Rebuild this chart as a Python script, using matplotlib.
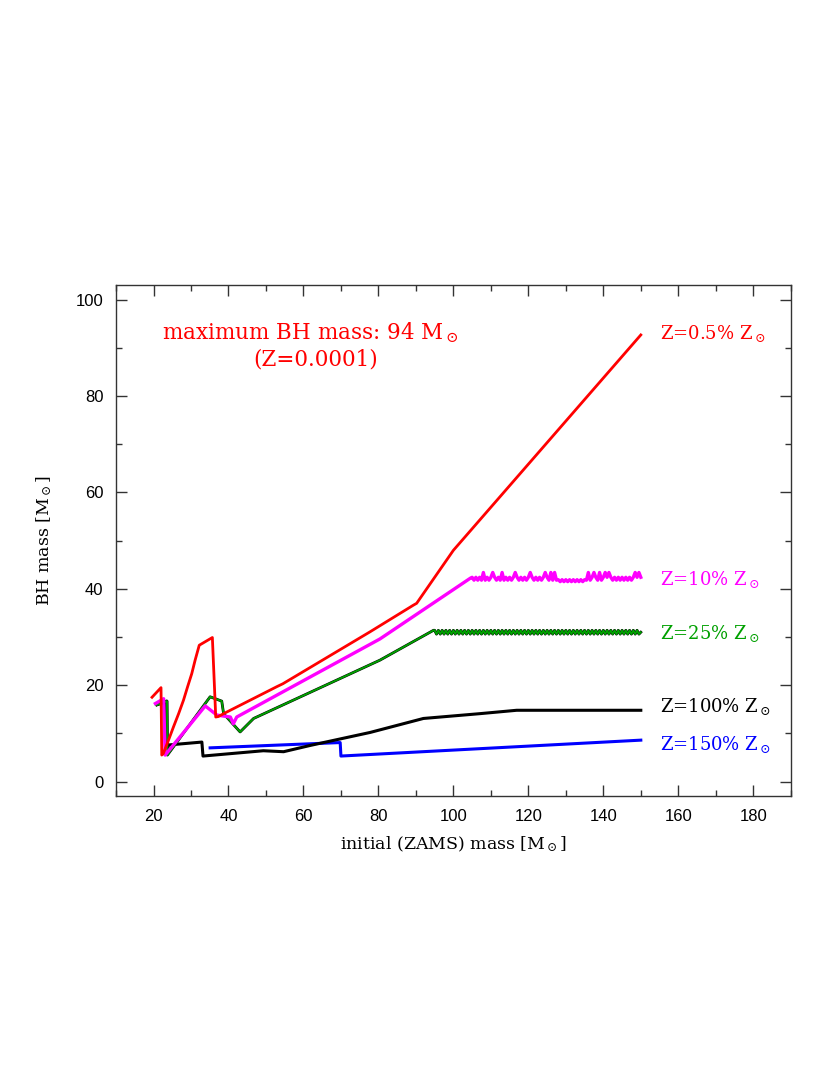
import numpy as np
import matplotlib
matplotlib.use("Agg")
import matplotlib.pyplot as plt
import matplotlib.patheffects as pe

plt.rcParams['mathtext.fontset'] = 'dejavuserif'

# Z = 0.5% Zsun
red_x = [19.6, 22.0, 22.2, 22.6, 24.0, 25.3, 26.7, 28.0, 29.1, 30.2, 31.1, 32.2,
         35.7, 36.6, 37.3, 38.7, 52.9, 54.5, 77.8, 89.3, 90.2, 100.0, 150.0]
red_y = [17.5, 19.5, 5.5, 5.8, 8.6, 11.3, 14.1, 16.9, 19.7, 22.4, 25.2, 28.3,
         29.9, 13.4, 13.5, 14.1, 19.7, 20.3, 31.1, 36.6, 37.0, 48.0, 92.7]

# Z = 10% Zsun
mag_x = [20.5, 22.7, 23.1, 33.8, 36.9, 40.5, 41.3, 42.2, 80.4, 104.5]
mag_y = [16.2, 17.2, 5.5, 15.7, 13.8, 13.4, 12.0, 13.4, 29.6, 42.2]
mag_plateau = [42.4, 41.8, 42.4, 41.8, 42.4, 41.8, 43.4, 41.8, 42.4, 41.8,
               42.4, 43.4, 42.4, 41.8, 42.4, 41.8, 43.4, 41.8, 42.4, 41.8,
               42.4, 41.8, 42.4, 43.4, 42.4, 41.8, 42.4, 41.8, 42.4, 41.8,
               42.4, 43.4, 42.4, 41.8, 42.4, 41.8, 42.4, 41.8, 42.4, 43.4,
               42.4, 41.8, 43.4, 41.8, 43.4, 41.8, 41.9, 41.5, 41.9, 41.5,
               41.9, 41.5, 41.9, 41.5, 41.9, 41.5, 41.9, 41.5, 41.9, 41.5,
               41.9, 41.8, 43.4, 41.8, 42.4, 43.4, 42.4, 41.8, 43.4, 41.8,
               42.4, 43.4, 42.4, 43.4, 42.4, 41.8, 42.4, 41.8, 42.4, 41.8,
               42.4, 41.8, 42.4, 41.8, 42.4, 41.8, 42.4, 43.4, 42.4, 43.4,
               42.4]
mag_plateau_x = np.arange(105.0, 150.01, 0.5)

# Z = 25% Zsun
grn_x = [20.9, 23.6, 23.7, 35.1, 38.2, 38.7, 43.1, 46.7, 80.4, 94.7]
grn_y = [15.9, 16.7, 5.5, 17.6, 16.7, 14.1, 10.3, 13.1, 25.2, 31.4]
grn_plateau = [31.4, 30.6, 31.4, 30.6, 31.4, 30.6, 31.4, 30.6, 31.4, 30.6,
               31.4, 30.6, 31.4, 30.6, 31.4, 30.6, 31.4, 30.6, 31.4, 30.6,
               31.4, 30.6, 31.4, 30.6, 31.4, 30.6, 31.4, 30.6, 31.4, 30.6,
               31.4, 30.6, 31.4, 30.6, 31.4, 30.6, 31.4, 30.6, 31.4, 30.6,
               31.4, 30.6, 31.4, 30.6, 31.4, 30.6, 31.4, 30.6, 31.4, 30.6,
               31.4, 30.6, 31.4, 30.6, 31.4, 30.6, 31.4, 30.6, 31.4, 30.6,
               31.4, 30.6, 31.4, 30.6, 31.4, 30.6, 31.4, 30.6, 31.4, 30.6,
               31.4, 30.6, 31.4, 30.6, 31.4, 30.6, 31.4, 30.6, 31.4, 30.6,
               31.4, 30.6, 31.4, 30.6, 31.4, 30.6, 31.4, 30.6, 31.4, 30.6,
               31.4, 30.6, 31.4, 30.6, 31.4, 30.6, 31.4, 30.6, 31.4, 30.6,
               31.4, 30.6, 31.4, 30.6, 31.4, 30.6, 31.4, 30.6, 31.4, 30.6,
               31.0]
grn_plateau_x = np.arange(95.0, 150.01, 0.5)

# Z = 100% Zsun
blk_x = [20.9, 23.5, 23.6, 24.0, 32.9, 33.2, 49.3, 54.7, 61.8, 77.8, 92.0,
         107.1, 116.9, 150.0]
blk_y = [16.0, 16.7, 5.8, 7.6, 8.2, 5.3, 6.4, 6.2, 7.5, 10.2, 13.1,
         14.1, 14.8, 14.8]

# Z = 150% Zsun
blu_x = [35.1, 69.8, 70.0, 150.0]
blu_y = [7.0, 8.1, 5.3, 8.6]

labels = [r'Z=0.5% Z$_\odot$', r'Z=10% Z$_\odot$', r'Z=25% Z$_\odot$',
          r'Z=100% Z$_\odot$', r'Z=150% Z$_\odot$']
label_y = [93.1, 42.0, 30.8, 15.6, 7.8]
colors = ['#ff0000', '#ff00ff', '#00a000', 'black', '#0000ff']

fig = plt.figure(figsize=(8.3, 10.75), dpi=100)
ax = fig.add_axes([0.1398, 0.2595, 0.9527 - 0.1398, 0.7346 - 0.2595])

ax.plot(blu_x, blu_y, color=colors[4], lw=2.2)
ax.plot(blk_x, blk_y, color=colors[3], lw=2.2)
ax.plot(list(grn_x) + list(grn_plateau_x), list(grn_y) + grn_plateau,
        color=colors[2], lw=1.4,
        path_effects=[pe.Stroke(linewidth=2.0, foreground='black'), pe.Normal()])
ax.plot(list(mag_x) + list(mag_plateau_x), list(mag_y) + mag_plateau,
        color=colors[1], lw=2.4)
ax.plot(red_x, red_y, color=colors[0], lw=2.0)

for lab, yy, c in zip(labels, label_y, colors):
    ax.text(155.1, yy, lab, color=c, fontsize=13, family='DejaVu Serif',
            va='center', ha='left')

ax.text(61.8, 93.1, r'maximum BH mass: 94 M$_\odot$', color='#ff0000',
        fontsize=15.5, family='DejaVu Serif', ha='center', va='center')
ax.text(63.3, 87.7, '(Z=0.0001)', color='#ff0000',
        fontsize=15.5, family='DejaVu Serif', ha='center', va='center')

ax.set_xlim(10, 190)
ax.set_ylim(-3, 103)
ax.set_xticks(np.arange(20, 181, 20))
ax.set_xticks(np.arange(10, 191, 10), minor=True)
ax.set_yticks(np.arange(0, 101, 20))
ax.set_yticks(np.arange(10, 101, 10), minor=True)
ax.tick_params(which='both', direction='in', top=True, right=True,
               color='#333333', width=1)
ax.tick_params(which='major', length=8, labelsize=12, pad=9)
ax.tick_params(which='minor', length=4)
for lab in ax.get_xticklabels() + ax.get_yticklabels():
    lab.set_family('Liberation Sans')
for sp in ax.spines.values():
    sp.set_color('#333333')
    sp.set_linewidth(1)

ax.set_xlabel(r'initial (ZAMS) mass [M$_\odot$]', family='DejaVu Serif',
              fontsize=12.5, labelpad=8)
ax.set_ylabel(r'BH mass [M$_\odot$]', family='DejaVu Serif', fontsize=12.5,
              labelpad=16)

fig.savefig('out.png', dpi=100)
